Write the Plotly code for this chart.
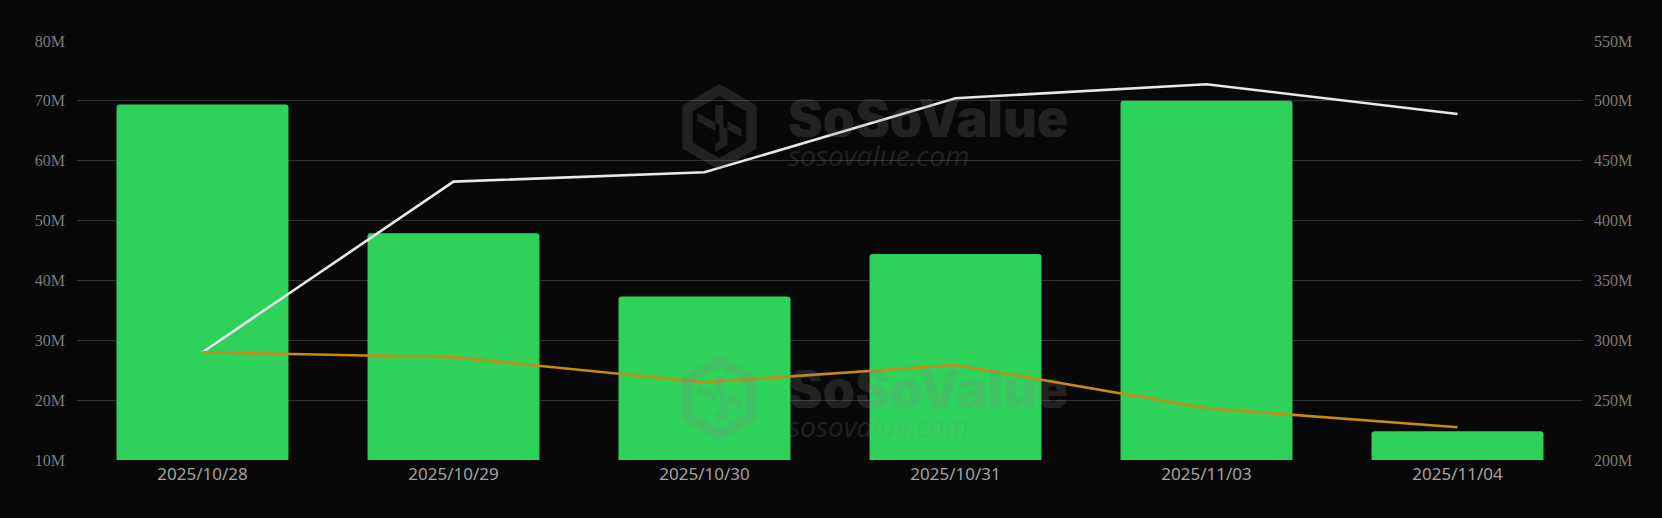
import math
import plotly.graph_objects as go

# ---- data ----
dates = ["2025/10/28", "2025/10/29", "2025/10/30", "2025/10/31", "2025/11/03", "2025/11/04"]
daily_net_inflow = [69.4e6, 47.9e6, 37.3e6, 44.4e6, 70.0e6, 14.8e6]
cumulative_line = [290e6, 432.5e6, 440.3e6, 502.2e6, 513.9e6, 489e6]
assets_line = [290e6, 285.8e6, 264.9e6, 279.4e6, 243.2e6, 227.3e6]

left_tickvals = [10e6, 20e6, 30e6, 40e6, 50e6, 60e6, 70e6, 80e6]
left_ticktext = ["10M", "20M", "30M", "40M", "50M", "60M", "70M", "80M"]
right_tickvals = [200e6, 250e6, 300e6, 350e6, 400e6, 450e6, 500e6, 550e6]
right_ticktext = ["200M", "250M", "300M", "350M", "400M", "450M", "500M", "550M"]

BG = "#080808"
GRID = "#333333"

fig = go.Figure()
fig.add_trace(go.Bar(
    x=dates, y=daily_net_inflow, marker=dict(color="#2ED25A", line=dict(width=0), cornerradius=3),
    yaxis="y", showlegend=False, hoverinfo="skip",
))
fig.add_trace(go.Scatter(
    x=dates, y=cumulative_line, mode="lines", line=dict(color="#E8E8E8", width=2.6),
    yaxis="y2", showlegend=False, hoverinfo="skip",
))
fig.add_trace(go.Scatter(
    x=dates, y=assets_line, mode="lines", line=dict(color="#C88A12", width=2.6),
    yaxis="y2", showlegend=False, hoverinfo="skip",
))

fig.update_layout(
    width=1662, height=518,
    margin=dict(l=77, r=79, t=41, b=58),
    paper_bgcolor=BG, plot_bgcolor=BG,
    bargap=0.315,
    xaxis=dict(
        type="category", showgrid=False, zeroline=False, showline=False, ticks="",
        tickfont=dict(family="Noto Sans", size=17, color="#A3A3A3"),
        ticklabelstandoff=2,
    ),
    yaxis=dict(
        range=[10e6, 80e6], tickvals=left_tickvals, ticktext=left_ticktext,
        showgrid=True, gridcolor=GRID, gridwidth=1, zeroline=False, showline=False, ticks="",
        tickfont=dict(family="Liberation Serif", size=16, color="#7A7A7A"),
        ticklabelstandoff=11,
    ),
    yaxis2=dict(
        range=[200e6, 550e6], tickvals=right_tickvals, ticktext=right_ticktext,
        overlaying="y", side="right", showgrid=False, zeroline=False, showline=False, ticks="",
        tickfont=dict(family="Liberation Serif", size=16, color="#7A7A7A"),
        ticklabelstandoff=10,
    ),
)

# ---- watermarks ----
WM = "rgba(128,128,128,0.22)"
R_out, R_in = 43, 31


def hexpath(R, reverse=False):
    pts = []
    for k in range(6):
        a = math.radians(90 - 60 * k)
        pts.append((R * math.cos(a), R * math.sin(a)))
    if reverse:
        pts = pts[::-1]
    return "M " + " L ".join(f"{x:.1f},{y:.1f}" for x, y in pts) + " Z"


ring = hexpath(R_out) + " " + hexpath(R_in, reverse=True)
inner = ("M -4,22 L 4,22 L 4,0 L 22,-10 L 22,-2 L 8,6 L 8,-18 L -4,-25 L -4,-17 L 0,-14 "
         "L 0,2 L -22,14 L -22,6 L -4,-4 Z")

for hex_y, big_y, small_y in [(0.795, 0.8174, 0.728), (0.148, 0.1706, 0.0812)]:
    fig.add_shape(type="path", xref="paper", yref="paper", xsizemode="pixel", ysizemode="pixel",
                  xanchor=0.4266, yanchor=hex_y, path=ring, fillcolor=WM, line=dict(width=0),
                  layer="above")
    fig.add_shape(type="path", xref="paper", yref="paper", xsizemode="pixel", ysizemode="pixel",
                  xanchor=0.4266, yanchor=hex_y, path=inner, fillcolor=WM, line=dict(width=0),
                  layer="above")
    fig.add_annotation(text="SoSoValue", xref="paper", yref="paper", x=0.4708, y=big_y,
                       xanchor="left", yanchor="middle", showarrow=False, height=38,
                       font=dict(family="Inter", size=52, weight=900, color=WM))
    fig.add_annotation(text="<i>sosovalue.com</i>", xref="paper", yref="paper", x=0.4708, y=small_y,
                       xanchor="left", yanchor="middle", showarrow=False, height=24,
                       font=dict(family="Open Sans", size=28, color=WM))

fig.write_html(
    "out.html",
    config={"displayModeBar": False},
    post_script="document.body.style.margin='0';document.body.style.background='#080808';",
)
